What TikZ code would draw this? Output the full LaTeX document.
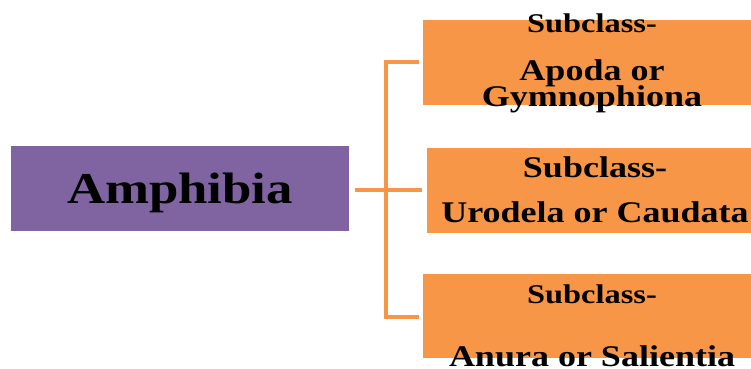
\documentclass[tikz,border=0pt]{standalone}
\usepackage{fontspec}
\setmainfont{Liberation Serif}[FakeStretch=1.2]
\definecolor{purp}{HTML}{8064A2}
\definecolor{oran}{HTML}{F79646}
\begin{document}
\begin{tikzpicture}[x=1pt,y=-1pt,
  box/.style={draw=none,rectangle,inner sep=0pt},
  pbox/.style={box,fill=purp},
  obox/.style={box,fill=oran,minimum width=328pt,minimum height=85pt},
  txt/.style={inner sep=0pt,anchor=base,font=\bfseries\fontsize{27}{30}\selectfont},
  big/.style={txt,font=\bfseries\fontsize{30}{33}\selectfont},
  conn/.style={draw=oran,line width=3.5pt}]
\useasboundingbox (0,0) rectangle (751,368);
\node[pbox,minimum width=338pt,minimum height=85pt] (main) at (180,188.5) {};
\node[obox] (b1) at (587,62.5) {};
\node[obox] (b2) at (591,190.5) {};
\node[obox,minimum height=84pt] (b3) at (587,316) {};
\node[txt,font=\bfseries\fontsize{44}{48}\selectfont] (tmain) at (180,203) {Amphibia};
\node[txt] (t1a) at (592,32) {Subclass-};
\node[big] (t1b) at (592,80) {Apoda or};
\node[big] (t1c) at (592,106) {Gymnophiona};
\node[txt,font=\bfseries\fontsize{30}{33}\selectfont] (t2a) at (595,177) {Subclass-};
\node[big] (t2b) at (595,222) {Urodela or Caudata};
\node[txt] (t3a) at (592,303) {Subclass-};
\node[big] (t3b) at (592,366) {Anura or Salientia};
\coordinate (jt) at (386,62);
\coordinate (jm) at (386,190);
\coordinate (jb) at (386,317);
\draw[conn] (jt) -- (jb);
\draw[conn,shorten <=6pt] (main.east |- jm) -- (jm) -- ([xshift=-5pt]b2.west |- jm);
\draw[conn,line cap=rect] (jt) -- ([xshift=-6pt]b1.west |- jt);
\draw[conn,line cap=rect] (jb) -- ([xshift=-6pt]b3.west |- jb);
\end{tikzpicture}
\end{document}
